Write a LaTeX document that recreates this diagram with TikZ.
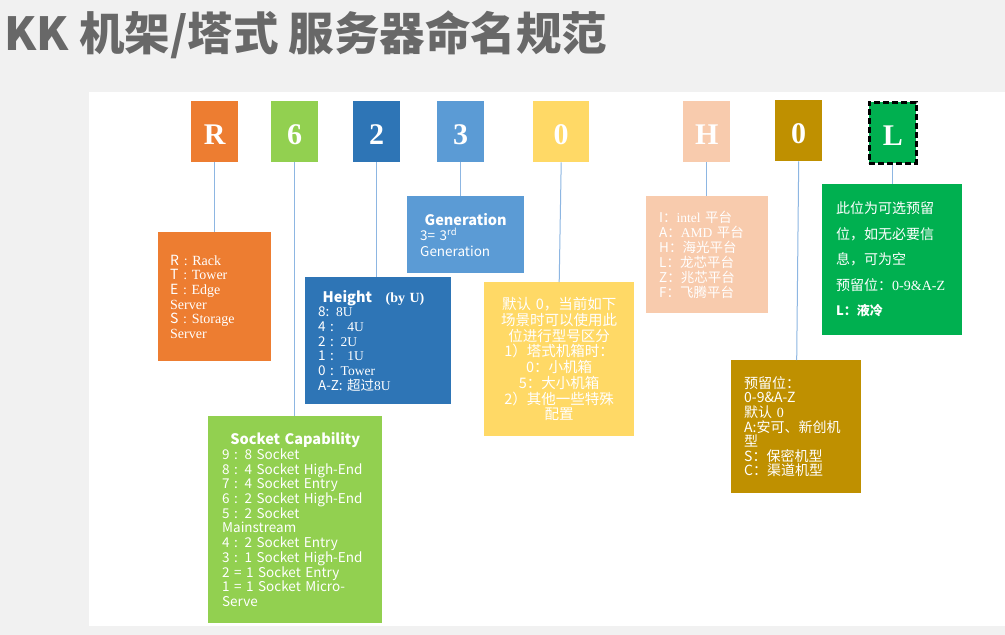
\documentclass[tikz,border=0pt]{standalone}
\usepackage{fontspec}
\setmainfont{Noto Sans CJK SC}
\newfontfamily\serifl{Liberation Serif}
\newfontfamily\letterfont{Liberation Serif}
\newcommand{\srf}[1]{{\serifl #1}}
\definecolor{bggray}{HTML}{F1F1F1}
\definecolor{titlegray}{HTML}{686868}
\definecolor{orng}{HTML}{ED7D31}
\definecolor{lgreen}{HTML}{92D050}
\definecolor{dblue}{HTML}{2E75B6}
\definecolor{mblue}{HTML}{5B9BD5}
\definecolor{yell}{HTML}{FFD966}
\definecolor{peach}{HTML}{F8CBAD}
\definecolor{gold}{HTML}{BF9000}
\definecolor{vgreen}{HTML}{00B050}
\definecolor{linkblue}{HTML}{8DB6E2}
\tikzset{
  letterbox/.style={rectangle, anchor=north west, minimum width=47pt, minimum height=61pt,
    inner sep=0pt, text height=26pt, text depth=0pt, text=white,
    font=\letterfont\bfseries\fontsize{30}{30}\selectfont},
  desc/.style={rectangle, anchor=north west, inner ysep=0pt, align=left, text=white},
  conn/.style={draw=linkblue, line width=1pt}
}
\begin{document}
\begin{tikzpicture}[x=1pt,y=-1pt]
\useasboundingbox (0,0) rectangle (1005,635);
\fill[bggray] (0,0) rectangle (1005,635);
\fill[white] (89,92) rectangle (1005,626);

% title
\node[anchor=base west, inner sep=0pt, text=titlegray,
  font=\bfseries\fontsize{45.5}{45.5}\selectfont] (title) at (4,50) {KK 机架/塔式 服务器命名规范};

% code letters
\node[letterbox, fill=orng]   (cR)  at (191,101) {R};
\node[letterbox, fill=lgreen] (c6)  at (271,101) {6};
\node[letterbox, fill=dblue]  (c2)  at (353,101) {2};
\node[letterbox, fill=mblue]  (c3)  at (437,101) {3};
\node[letterbox, fill=yell, minimum width=56pt] (c0)  at (533,101) {0};
\node[letterbox, fill=peach]  (cH)  at (683,101) {H};
\node[letterbox, fill=gold]   (cG)  at (775,100) {0};
\node[letterbox, fill=vgreen, draw=black, line width=2.5pt, dash pattern=on 6pt off 3pt] (cL) at (868,101) {L};

% description boxes
\node[desc, fill=orng, minimum width=113pt, minimum height=129pt, inner xsep=12pt, text width=89pt,
  font=\fontsize{14}{14.7}\selectfont] (dR) at (158,232)
  {{\fontsize{14}{14.7}\selectfont R} \srf{: Rack}\\
   {\fontsize{14}{14.7}\selectfont T} \srf{: Tower}\\
   {\fontsize{14}{14.7}\selectfont E} \srf{: Edge}\\
   \srf{Server}\\
   {\fontsize{14}{14.7}\selectfont S} \srf{: Storage}\\
   \srf{Server}};

\node[desc, fill=lgreen, minimum width=174pt, minimum height=207pt, inner xsep=14pt, text width=146pt,
  font=\fontsize{13.5}{14.7}\selectfont] (d6) at (208,416)
  {{\centering\bfseries\fontsize{14.5}{17}\selectfont Socket Capability\par}
   9 : 8 Socket\\
   8 : 4 Socket High-End\\
   7 : 4 Socket Entry\\
   6 : 2 Socket High-End\\
   5 : 2 Socket\\
   Mainstream\\
   4 : 2 Socket Entry\\
   3 : 1 Socket High-End\\
   2 = 1 Socket Entry\\
   1 = 1 Socket Micro-\\
   Serve};

\node[desc, fill=dblue, minimum width=146pt, minimum height=127pt, inner xsep=13pt, text width=120pt,
  font=\fontsize{13.5}{14.7}\selectfont] (d2) at (305,277)
  {{\bfseries\fontsize{14.5}{17}\selectfont\ Height}\quad{\serifl\bfseries\fontsize{14}{17}\selectfont (by U)}\\
   8: \srf{8U}\\
   4 :\ \ \ \srf{4U}\\
   2 : \srf{2U}\\
   1 :\ \ \ \srf{1U}\\
   0 : \srf{Tower}\\
   A-Z: 超过\srf{8U}};

\node[desc, fill=mblue, minimum width=117pt, minimum height=77pt, inner xsep=13pt, text width=91pt,
  font=\fontsize{13.5}{15.5}\selectfont] (d3) at (407,196)
  {{\centering\bfseries\fontsize{14.5}{17}\selectfont Generation\par}
   3= 3\textsuperscript{rd}\\
   Generation};

\node[desc, fill=yell, align=center, minimum width=150pt, minimum height=154pt, inner xsep=8pt, text width=134pt,
  font=\fontsize{14.5}{15.7}\selectfont] (d0) at (484,282)
  {默认 0，当前如下\\
   场景时可以使用此\\
   位进行型号区分\\
   1）塔式机箱时：\\
   0：小机箱\\
   5：大小机箱\\
   2）其他一些特殊\\
   配置};

\node[desc, fill=peach, minimum width=122pt, minimum height=117pt, inner xsep=13pt, text width=96pt,
  font=\fontsize{13.5}{15}\selectfont] (dH) at (646,196)
  {I：\srf{intel} 平台\\
   A：\srf{AMD} 平台\\
   H：海光平台\\
   L：龙芯平台\\
   Z：兆芯平台\\
   F：飞腾平台};

\node[desc, fill=gold, minimum width=130pt, minimum height=133pt, inner xsep=13pt, text width=104pt,
  font=\fontsize{14}{14.6}\selectfont] (dG) at (731,360)
  {预留位：\\
   0-9\&A-Z\\
   默认 \srf{0}\\
   A:安可、新创机\\
   型\\
   S：保密机型\\
   C：渠道机型};

\node[desc, fill=vgreen, minimum width=140pt, minimum height=151pt, inner xsep=14pt, text width=112pt,
  font=\fontsize{14}{25.5}\selectfont] (dL) at (822,184)
  {此位为可选预留\\
   位，如无必要信\\
   息，可为空\\
   预留位：\srf{0-9\&A-Z}\\
   {\bfseries\fontsize{13}{25.5}\selectfont L：液冷}};

% connectors
\draw[conn] (cR.south) -- (dR.north -| cR.south);
\draw[conn] (c6.south) -- (d6.north -| c6.south);
\draw[conn] (c2.south) -- (d2.north -| c2.south);
\draw[conn] (c3.south) -- (d3.north -| c3.south);
\draw[conn] (c0.south) -- ([xshift=-2pt]d0.north -| c0.south);
\draw[conn] (cH.south) -- (dH.north -| cH.south);
\draw[conn] (cG.south) -- ([xshift=-2pt]dG.north -| cG.south);
\draw[conn] (cL.south) -- (dL.north -| cL.south);
\end{tikzpicture}
\end{document}
